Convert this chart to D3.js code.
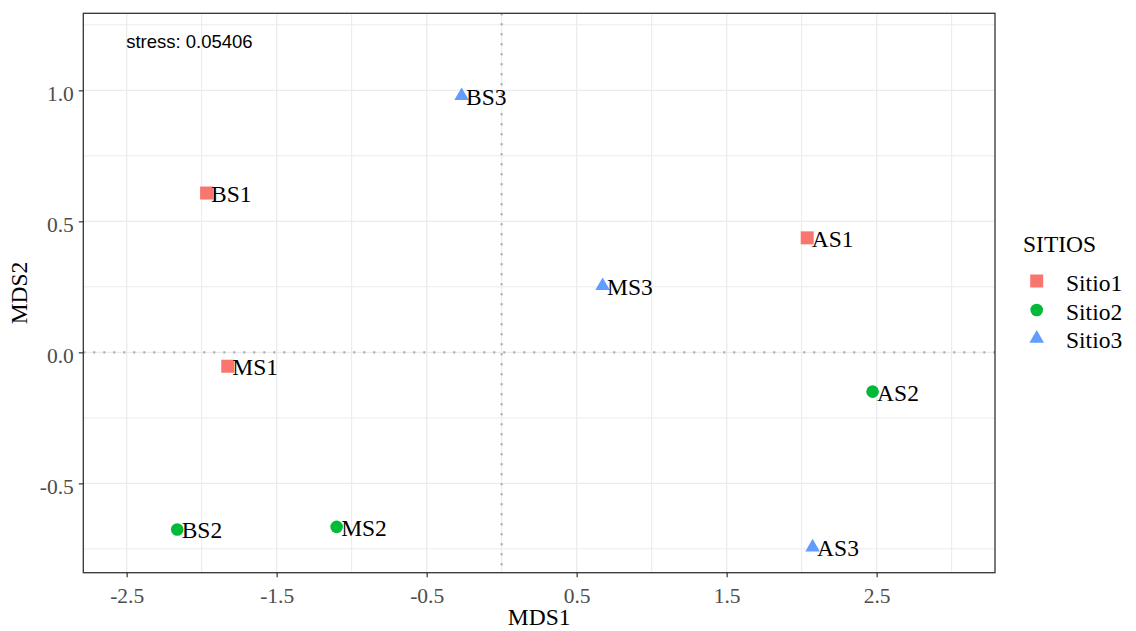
<!DOCTYPE html>
<html>
<head>
<meta charset="utf-8">
<script src="https://cdn.jsdelivr.net/npm/d3@7"></script>
<style>
  body { margin: 0; background: #fff; }
  svg { display: block; }
</style>
</head>
<body>
<svg id="chart" width="1136" height="631"></svg>
<script>
// ---- data ----
const labels = ["BS1", "MS1", "AS1", "BS2", "MS2", "AS2", "BS3", "MS3", "AS3"];
const mds1   = [-1.967, -1.826, 2.037, -2.163, -1.100, 2.473, -0.267, 0.673, 2.073];
const mds2   = [0.608, -0.053, 0.437, -0.676, -0.666, -0.150, 0.979, 0.254, -0.744];
const sitio  = ["Sitio1", "Sitio1", "Sitio1", "Sitio2", "Sitio2", "Sitio2", "Sitio3", "Sitio3", "Sitio3"];
const groups = ["Sitio1", "Sitio2", "Sitio3"];
const groupColors = ["#F8766D", "#00BA38", "#619CFF"];
const xTicks = [-2.5, -1.5, -0.5, 0.5, 1.5, 2.5];
const xMinor = [-2, -1, 0, 1, 2, 3];
const yTicks = [-0.5, 0.0, 0.5, 1.0];
const yMinor = [-0.75, -0.25, 0.25, 0.75, 1.25];
const xDomain = [-2.789, 3.289];
const yDomain = [-0.841, 1.294];
const stressText = "stress: 0.05406";
const legendTitle = "SITIOS";

// ---- layout ----
const svg = d3.select("#chart");
const L = 83.3, R = 995, T = 13.3, B = 572.7;
const x = d3.scaleLinear().domain(xDomain).range([L, R]);
const y = d3.scaleLinear().domain(yDomain).range([B, T]);
const color = d3.scaleOrdinal().domain(groups).range(groupColors);
const shapes = d3.scaleOrdinal().domain(groups).range([d3.symbolSquare, d3.symbolCircle, d3.symbolTriangle]);
const sizes = d3.scaleOrdinal().domain(groups).range([169, 125, 92]);
const serif = "'Liberation Serif', 'Times New Roman', serif";
const fmt = d => d.toFixed(1);  // plain hyphen-minus like R

const g = svg.append("g");

// grid
g.selectAll(".vminor").data(xMinor).join("line")
  .attr("x1", d => x(d)).attr("x2", d => x(d)).attr("y1", T).attr("y2", B)
  .attr("stroke", "#EBEBEB").attr("stroke-width", 1);
g.selectAll(".hminor").data(yMinor).join("line")
  .attr("y1", d => y(d)).attr("y2", d => y(d)).attr("x1", L).attr("x2", R)
  .attr("stroke", "#EBEBEB").attr("stroke-width", 1);
g.selectAll(".vmajor").data(xTicks).join("line")
  .attr("x1", d => x(d)).attr("x2", d => x(d)).attr("y1", T).attr("y2", B)
  .attr("stroke", "#EBEBEB").attr("stroke-width", 1.3);
g.selectAll(".hmajor").data(yTicks).join("line")
  .attr("y1", d => y(d)).attr("y2", d => y(d)).attr("x1", L).attr("x2", R)
  .attr("stroke", "#EBEBEB").attr("stroke-width", 1.3);

// dotted zero lines
g.append("line").attr("x1", x(0)).attr("x2", x(0)).attr("y1", T).attr("y2", B)
  .attr("stroke", "#ABABAB").attr("stroke-width", 2.2).attr("stroke-dasharray", "2 8");
g.append("line").attr("y1", y(0)).attr("y2", y(0)).attr("x1", L).attr("x2", R)
  .attr("stroke", "#ABABAB").attr("stroke-width", 2.2).attr("stroke-dasharray", "2 8");

// axes
const xAxis = g.append("g").attr("transform", `translate(0,${B})`)
  .call(d3.axisBottom(x).tickValues(xTicks).tickFormat(fmt).tickSize(4.5).tickPadding(11));
const yAxis = g.append("g").attr("transform", `translate(${L},0)`)
  .call(d3.axisLeft(y).tickValues(yTicks).tickFormat(fmt).tickSize(4.5).tickPadding(5));
[xAxis, yAxis].forEach(a => {
  a.select(".domain").remove();
  a.selectAll(".tick line").attr("stroke", "#333333").attr("stroke-width", 1.2);
  a.selectAll(".tick text").attr("fill", "#4D4D4D").attr("font-family", serif).attr("font-size", 21.5);
});
xAxis.selectAll(".tick text").attr("dy", "0.71em");
yAxis.selectAll(".tick text").attr("dy", "0.48em");

// panel border
g.append("rect").attr("x", L).attr("y", T).attr("width", R - L).attr("height", B - T)
  .attr("fill", "none").attr("stroke", "#333333").attr("stroke-width", 1.3);

// points
const idx = d3.range(labels.length);
g.selectAll(".pt").data(idx).join("path")
  .attr("transform", i => `translate(${x(mds1[i])},${y(mds2[i])})`)
  .attr("d", i => d3.symbol().type(shapes(sitio[i])).size(sizes(sitio[i]))())
  .attr("fill", i => color(sitio[i]));

// labels
g.selectAll(".lab").data(idx).join("text")
  .attr("x", i => x(mds1[i]) + 4.5)
  .attr("y", i => y(mds2[i]) + 9)
  .attr("font-family", serif).attr("font-size", 23.5).attr("fill", "#000")
  .text(i => labels[i]);

// stress annotation
g.append("text").attr("x", x(-2.5) - 0.5).attr("y", 47.5)
  .attr("font-family", "'Liberation Sans', Arial, sans-serif").attr("font-size", 18.5).attr("fill", "#000")
  .text(stressText);

// axis titles
g.append("text").attr("x", (L + R) / 2).attr("y", 625).attr("text-anchor", "middle")
  .attr("font-family", serif).attr("font-size", 23.5).attr("fill", "#000").text("MDS1");
g.append("text").attr("transform", `translate(26.5,${(T + B) / 2}) rotate(-90)`).attr("text-anchor", "middle")
  .attr("font-family", serif).attr("font-size", 23.5).attr("fill", "#000").text("MDS2");

// legend
const lg = svg.append("g");
lg.append("text").attr("x", 1023).attr("y", 251.5)
  .attr("font-family", serif).attr("font-size", 23.5).attr("fill", "#000").text(legendTitle);
const keyY = [281, 310, 338.5];
lg.selectAll(".key").data(groups).join("path")
  .attr("transform", (d, i) => `translate(1036.7,${keyY[i]})`)
  .attr("d", d => d3.symbol().type(shapes(d)).size(sizes(d))())
  .attr("fill", d => color(d));
lg.selectAll(".klab").data(groups).join("text")
  .attr("x", 1066).attr("y", (d, i) => keyY[i] + 9.5)
  .attr("font-family", serif).attr("font-size", 23.5).attr("fill", "#000")
  .text(d => d);
</script>
</body>
</html>
